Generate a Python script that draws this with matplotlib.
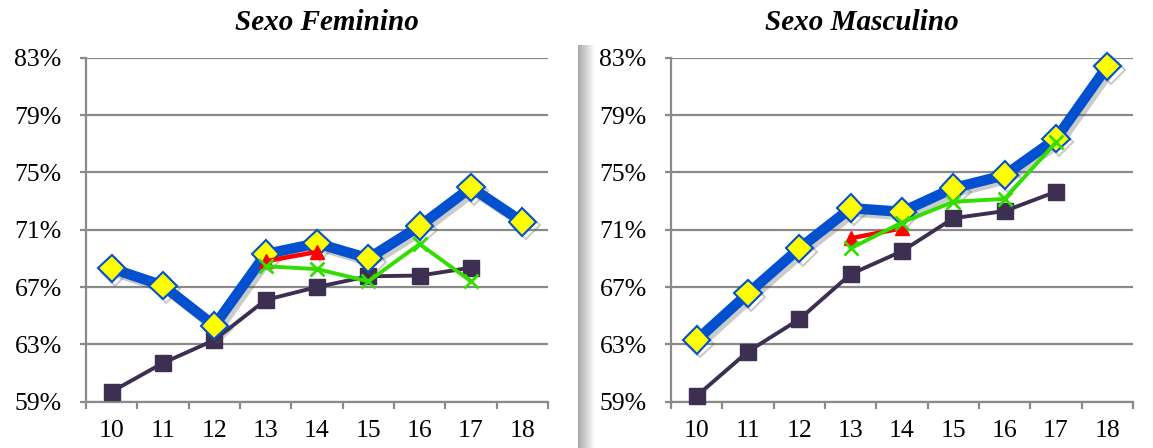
import matplotlib
matplotlib.use("Agg")
import matplotlib.pyplot as plt
import matplotlib.patheffects as pe
from matplotlib.ticker import FixedLocator
import numpy as np

plt.rcParams['font.family'] = ['Liberation Serif', 'DejaVu Serif']

ages = ["10", "11", "12", "13", "14", "15", "16", "17", "18"]
yticks = [59, 63, 67, 71, 75, 79, 83]

# Sexo Feminino
fem_blue = [68.3, 67.1, 64.3, 69.3, 70.05, 69.0, 71.25, 73.95, 71.55]
fem_dark = [59.7, 61.7, 63.3, 66.1, 67.0, 67.75, 67.8, 68.35]
fem_red = [68.8, 69.45]
fem_green = [68.45, 68.25, 67.4, 70.0, 67.4]

# Sexo Masculino
mas_blue = [63.3, 66.55, 69.7, 72.5, 72.25, 73.9, 74.8, 77.35, 82.4]
mas_dark = [59.4, 62.5, 64.75, 67.9, 69.5, 71.8, 72.3, 73.65]
mas_red = [70.4, 71.1]
mas_green = [69.7, 71.5, 72.95, 73.15, 77.1]

panels = [
    ("Sexo Feminino", fem_blue, fem_dark, fem_red, fem_green),
    ("Sexo Masculino", mas_blue, mas_dark, mas_red, mas_green),
]

fig = plt.figure(figsize=(11.53, 4.48), dpi=100)
W, H = 1153, 448
lefts = [86, 671]
title_x = [327, 862]
axw = 462
ybot = 401.7
ytop = 57.7

grid_c = "#8a8a8a"
dark_c = "#3c2f52"
blue_c = "#0050d0"

# gradient shadow band between panels
bg = fig.add_axes([578 / W, 0, 17 / W, (H - 45) / H], zorder=0)
grad = np.linspace(0.66, 1.0, 64).reshape(1, -1)
bg.imshow(grad, aspect="auto", cmap="gray", vmin=0, vmax=1, extent=(0, 1, 0, 1))
bg.set_axis_off()

for (title, blue, dark, red, green), lp, tx in zip(panels, lefts, title_x):
    ax = fig.add_axes([lp / W, (H - ybot) / H, axw / W, (ybot - ytop) / H], zorder=2)
    ax.patch.set_alpha(0)
    x_all = np.arange(len(ages))
    ax.set_xlim(-0.5, len(ages) - 0.5)
    ax.set_ylim(59, 83)
    for y in yticks:
        ax.axhline(y, color=grid_c, lw=1.6, zorder=1)
    for s in ["top", "right"]:
        ax.spines[s].set_visible(False)
    ax.spines["left"].set_color(grid_c)
    ax.spines["left"].set_linewidth(1.6)
    ax.spines["bottom"].set_color(grid_c)
    ax.spines["bottom"].set_linewidth(1.6)

    ax.set_yticks(yticks)
    ax.set_yticklabels([f"{v}%" for v in yticks], fontsize=18.5)
    ax.tick_params(axis="y", length=4.5, width=1.6, color=grid_c, pad=13)

    ax.set_xticks(x_all)
    ax.set_xticklabels(ages, fontsize=18.5)
    ax.tick_params(axis="x", which="major", length=0, pad=13)
    ax.xaxis.set_minor_locator(FixedLocator(np.arange(-0.5, len(ages), 1.0)))
    ax.tick_params(axis="x", which="minor", length=5, width=1.6, color=grid_c)

    shadow = [pe.SimpleLineShadow(offset=(2.5, -2.5), shadow_color="#555555", alpha=0.3, rho=0.3),
              pe.Normal()]

    ax.plot(x_all[:len(dark)], dark, color=dark_c, lw=2.8, marker="s", ms=11,
            mfc=dark_c, mec=dark_c, zorder=3, clip_on=False)
    ax.plot(x_all[:len(blue)], blue, color=blue_c, lw=7.5, marker="D", ms=14,
            mfc="#ffff00", mec=blue_c, mew=1.5, zorder=4, path_effects=shadow, clip_on=False)
    ax.plot(x_all[3:3 + len(red)], red, color="#ff0000", lw=3.2, marker="^", ms=10,
            mfc="#ff0000", mec="#ff0000", zorder=5, clip_on=False)
    ax.plot(x_all[3:3 + len(green)], green, color="#33dd00", lw=2.8, marker="x", ms=10,
            mew=2, mec="#33dd00", zorder=6, clip_on=False)

    fig.text(tx / W, 1 - 22 / H, title, fontsize=21, fontweight="bold", fontstyle="italic",
             ha="center", va="center")

fig.savefig("out.png", dpi=100)
